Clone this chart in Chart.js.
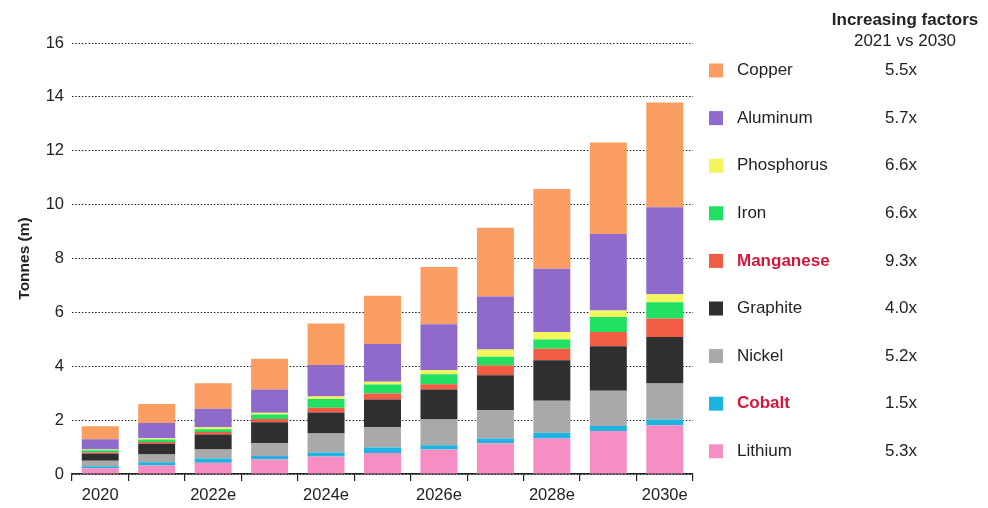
<!DOCTYPE html>
<html><head><meta charset="utf-8">
<script src="https://cdn.jsdelivr.net/npm/chart.js@4.4.1/dist/chart.umd.min.js"></script>
<style>html,body{margin:0;padding:0;background:#fff;}#wrap{width:988px;height:508px;position:relative;}</style>
</head><body><div id="wrap"><canvas id="c" width="988" height="508"></canvas></div>
<script>
// ---- data ----
const categories = ['2020','2021e','2022e','2023e','2024e','2025e','2026e','2027e','2028e','2029e','2030e'];
const shownTickLabels = ['2020','2022e','2024e','2026e','2028e','2030e'];
const yTicks = [0,2,4,6,8,10,12,14,16];
const lithium    = [0.21,0.32,0.42,0.55,0.65,0.78,0.91,1.14,1.32,1.60,1.81];
const cobalt     = [0.08,0.12,0.16,0.12,0.15,0.20,0.16,0.18,0.21,0.18,0.21];
const nickel     = [0.20,0.28,0.33,0.47,0.70,0.76,0.95,1.05,1.19,1.31,1.34];
const graphite   = [0.27,0.40,0.56,0.78,0.78,1.03,1.12,1.30,1.50,1.65,1.73];
const manganese  = [0.05,0.07,0.09,0.12,0.18,0.22,0.19,0.37,0.43,0.53,0.68];
const iron       = [0.07,0.09,0.10,0.17,0.32,0.33,0.37,0.31,0.34,0.56,0.61];
const phosphorus = [0.03,0.05,0.08,0.06,0.10,0.10,0.15,0.27,0.28,0.24,0.29];
const aluminum   = [0.38,0.56,0.68,0.87,1.17,1.41,1.71,1.97,2.35,2.84,3.23];
const copper     = [0.48,0.71,0.95,1.14,1.54,1.79,2.12,2.55,2.96,3.40,3.89];
const seriesNames = ['Lithium','Cobalt','Nickel','Graphite','Manganese','Iron','Phosphorus','Aluminum','Copper'];
const factorLabels = ['5.3x','1.5x','5.2x','4.0x','9.3x','6.6x','6.6x','5.7x','5.5x'];
const highlighted = ['Manganese','Cobalt'];
const legendTitle = ['Increasing factors','2021 vs 2030'];
const yTitle = 'Tonnes (m)';

// ---- styles ----
const colors = ['#F68EC3','#1DB4E2','#A9A9A9','#2F2F2F','#F25C45','#1FE060','#F2F55C','#8E6BCB','#F99D62'];
const values = [lithium,cobalt,nickel,graphite,manganese,iron,phosphorus,aluminum,copper];
const FONT = "'Liberation Sans', Arial, Helvetica, sans-serif";
const TXT = '#222';

const legendPlugin = {
  id: 'factorLegend',
  afterDraw(chart) {
    const ctx = chart.ctx;
    ctx.save();
    ctx.fillStyle = TXT;
    ctx.textAlign = 'center';
    ctx.textBaseline = 'middle';
    ctx.font = 'bold 17px ' + FONT;
    ctx.fillText(legendTitle[0], 905, 20);
    ctx.font = '17px ' + FONT;
    ctx.fillText(legendTitle[1], 905, 41);
    const n = seriesNames.length;
    for (let k = 0; k < n; k++) {
      const i = n - 1 - k;
      const y = 70.5 + k * 47.6;
      ctx.fillStyle = colors[i];
      ctx.fillRect(709, y - 7, 14, 14);
      const hl = highlighted.includes(seriesNames[i]);
      ctx.textAlign = 'left';
      ctx.fillStyle = hl ? '#D3163B' : TXT;
      ctx.font = (hl ? 'bold ' : '') + '17px ' + FONT;
      ctx.fillText(seriesNames[i], 737, y);
      ctx.textAlign = 'center';
      ctx.fillStyle = TXT;
      ctx.font = '17px ' + FONT;
      ctx.fillText(factorLabels[i], 901, y);
    }
    ctx.restore();
  }
};

new Chart(document.getElementById('c'), {
  type: 'bar',
  data: {
    labels: categories,
    datasets: seriesNames.map((name, i) => ({
      label: name,
      data: values[i],
      backgroundColor: colors[i],
      borderWidth: 0,
      categoryPercentage: 1,
      barPercentage: 0.655
    }))
  },
  options: {
    responsive: false,
    animation: false,
    devicePixelRatio: 1,
    layout: { padding: { left: 11, right: 295, top: 43, bottom: 2 } },
    plugins: { legend: { display: false }, tooltip: { enabled: false } },
    scales: {
      x: {
        stacked: true,
        afterFit: s => { s.height = 32; },
        grid: { display: true, drawOnChartArea: false, drawTicks: true, tickLength: 7, color: '#222', lineWidth: 1.2, offset: true },
        border: { display: true, color: '#222', width: 1.5 },
        ticks: {
          autoSkip: false, maxRotation: 0, padding: 5, color: TXT,
          font: { family: FONT, size: 16.5 },
          callback: (v, i) => shownTickLabels.includes(categories[i]) ? categories[i] : ''
        }
      },
      y: {
        stacked: true,
        min: 0, max: 16,
        afterFit: s => { s.width = 61; },
        afterBuildTicks: s => { s.ticks = yTicks.map(v => ({ value: v })); },
        grid: { display: true, drawTicks: false, color: '#222', lineWidth: 1, borderDash: [1.5, 1.8] },
        border: { display: false, dash: [1.5, 1.8] },
        ticks: { padding: 8, color: TXT, font: { family: FONT, size: 16.5 } },
        title: { display: true, text: yTitle, color: TXT, font: { family: FONT, size: 15.5, weight: 'bold' }, padding: { top: 4, bottom: 0 } }
      }
    }
  },
  plugins: [legendPlugin]
});
</script>
</body></html>
